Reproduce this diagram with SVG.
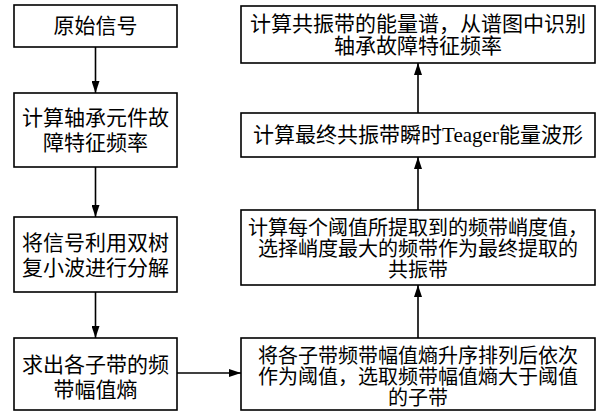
<svg xmlns="http://www.w3.org/2000/svg" width="608" height="412" viewBox="0 0 608 412">
<defs>
<style>
.box{fill:#fff;stroke:#000;stroke-width:1.6}
.t{font-family:"Liberation Serif","Noto Sans CJK SC",serif;font-size:21px;fill:#000;text-anchor:middle;dominant-baseline:central}
.r{font-size:20px}
.c{stroke:#000;stroke-width:1.6;fill:none;marker-end:url(#ah)}
</style>
<marker id="ah" viewBox="0 0 12 8" refX="12" refY="4" markerWidth="12" markerHeight="8" markerUnits="userSpaceOnUse" orient="auto">
<path d="M0,0 L12,4 L0,8 Z" fill="#000"/>
</marker>
</defs>
<rect width="608" height="412" fill="#fff"/>
<g id="n1"><rect class="box" x="14" y="5" width="163" height="42"/><text class="t" x="95.5" y="26">原始信号</text></g>
<g id="n2"><rect class="box" x="14" y="93" width="163" height="74"/><text class="t" x="95.5" y="118">计算轴承元件故</text><text class="t" x="95.5" y="143">障特征频率</text></g>
<g id="n3"><rect class="box" x="14" y="217" width="163" height="75"/><text class="t" x="95.5" y="243">将信号利用双树</text><text class="t" x="95.5" y="268">复小波进行分解</text></g>
<g id="n4"><rect class="box" x="14" y="338" width="163" height="72"/><text class="t" x="95.5" y="365">求出各子带的频</text><text class="t" x="95.5" y="390">带幅值熵</text></g>
<g id="n5"><rect class="box" x="241" y="338" width="354" height="72"/><text class="t r" x="418" y="356">将各子带频带幅值熵升序排列后依次</text><text class="t r" x="418" y="377">作为阈值，选取频带幅值熵大于阈值</text><text class="t r" x="418" y="398">的子带</text></g>
<g id="n6"><rect class="box" x="241" y="210" width="354" height="75"/><text class="t r" x="418" y="228">计算每个阈值所提取到的频带峭度值，</text><text class="t r" x="418" y="249">选择峭度最大的频带作为最终提取的</text><text class="t r" x="418" y="270">共振带</text></g>
<g id="n7"><rect class="box" x="241" y="113" width="354" height="44"/><text class="t" x="418" y="135">计算最终共振带瞬时Teager能量波形</text></g>
<g id="n8"><rect class="box" x="241" y="6" width="354" height="57"/><text class="t" x="418" y="24">计算共振带的能量谱，从谱图中识别</text><text class="t" x="418" y="46">轴承故障特征频率</text></g>
<g id="connectors">
<line class="c" x1="95.5" y1="47" x2="95.5" y2="93"/>
<line class="c" x1="95.5" y1="167" x2="95.5" y2="217"/>
<line class="c" x1="95.5" y1="292" x2="95.5" y2="338"/>
<line class="c" x1="177" y1="373" x2="241" y2="373"/>
<line class="c" x1="418" y1="338" x2="418" y2="285"/>
<line class="c" x1="418" y1="210" x2="418" y2="157"/>
<line class="c" x1="418" y1="113" x2="418" y2="63"/>
</g>
</svg>
